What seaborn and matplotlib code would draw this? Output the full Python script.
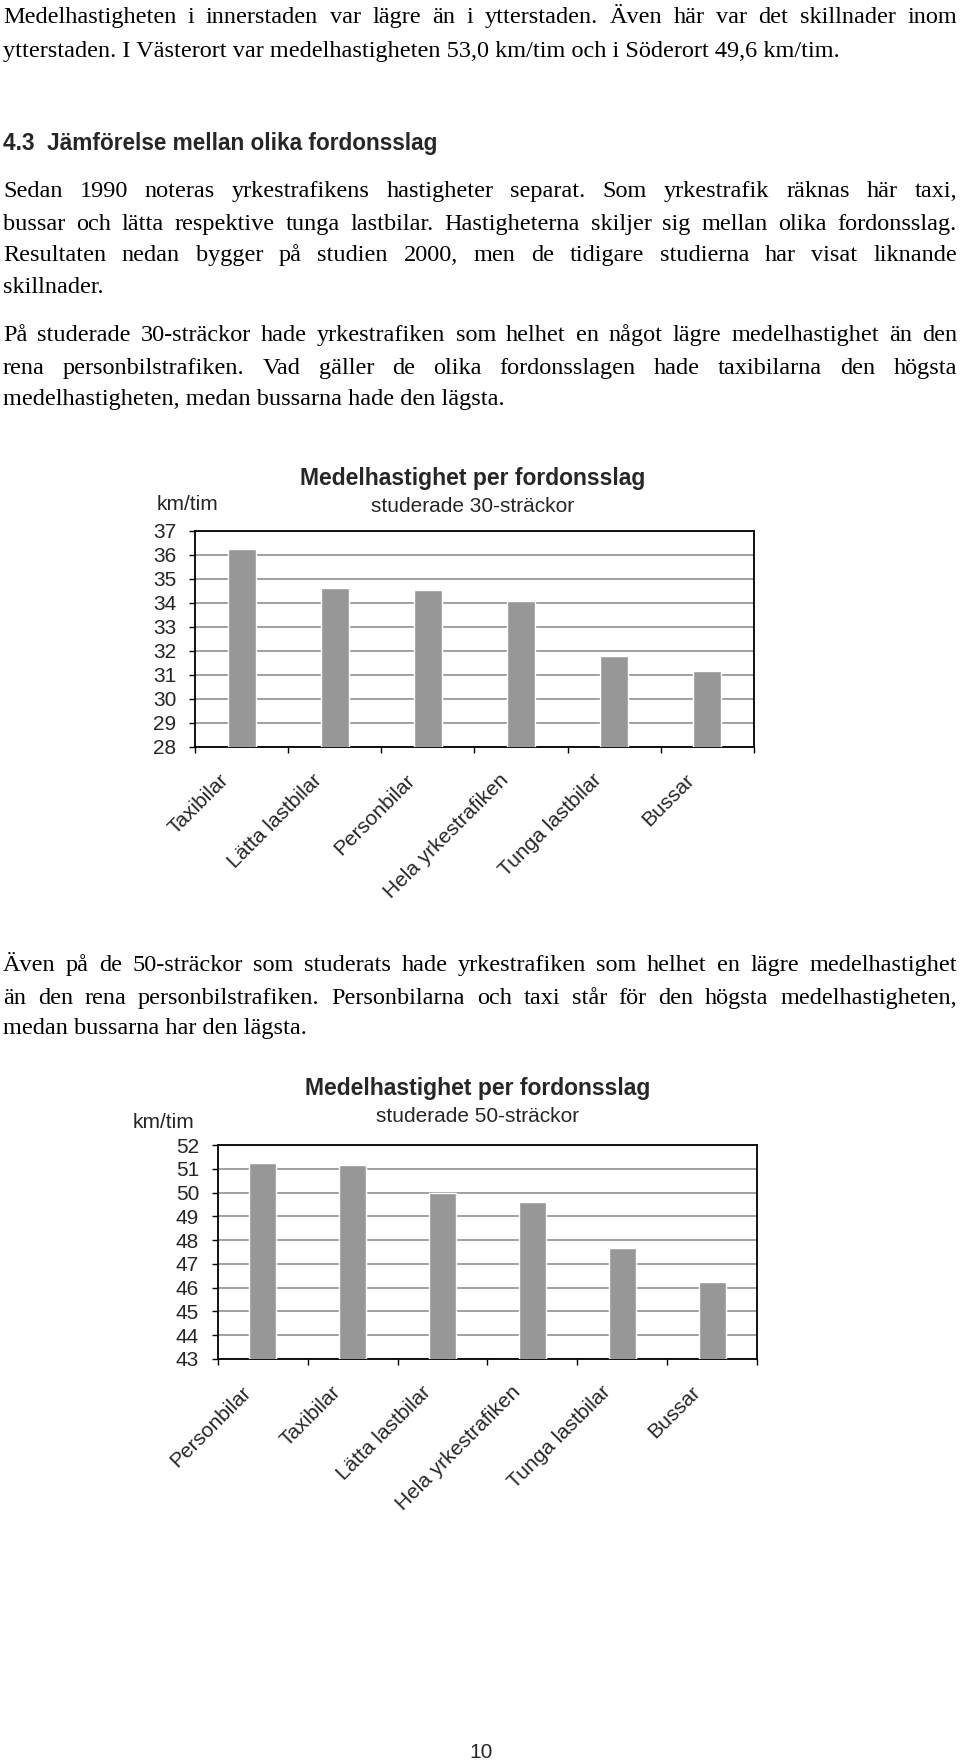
import numpy as np
import pandas as pd
import seaborn as sns
import matplotlib.pyplot as plt

# data (km/tim)
cats_30 = ["Taxibilar", "Lätta lastbilar", "Personbilar", "Hela yrkestrafiken", "Tunga lastbilar", "Bussar"]
speed_30 = [36.25, 34.63, 34.56, 34.1, 31.78, 31.15]

cats_50 = ["Personbilar", "Taxibilar", "Lätta lastbilar", "Hela yrkestrafiken", "Tunga lastbilar", "Bussar"]
speed_50 = [51.25, 51.15, 50.0, 49.6, 47.66, 46.22]

ticks_30 = list(range(28, 38))
ticks_50 = list(range(43, 53))

title = "Medelhastighet per fordonsslag"
sub_30 = "studerade 30-sträckor"
sub_50 = "studerade 50-sträckor"

# page text: (y in px, text, justified?)
body = [
    (17, "Medelhastigheten i innerstaden var lägre än i ytterstaden. Även här var det skillnader inom", True),
    (51, "ytterstaden. I Västerort var medelhastigheten 53,0 km/tim och i Söderort 49,6 km/tim.", False),
    (191, "Sedan 1990 noteras yrkestrafikens hastigheter separat. Som yrkestrafik räknas här taxi,", True),
    (224, "bussar och lätta respektive tunga lastbilar. Hastigheterna skiljer sig mellan olika fordonsslag.", True),
    (255, "Resultaten nedan bygger på studien 2000, men de tidigare studierna har visat liknande", True),
    (287, "skillnader.", False),
    (335, "På studerade 30-sträckor hade yrkestrafiken som helhet en något lägre medelhastighet än den", True),
    (368, "rena personbilstrafiken. Vad gäller de olika fordonsslagen hade taxibilarna den högsta", True),
    (399, "medelhastigheten, medan bussarna hade den lägsta.", False),
    (965, "Även på de 50-sträckor som studerats hade yrkestrafiken som helhet en lägre medelhastighet", True),
    (998, "än den rena personbilstrafiken. Personbilarna och taxi står för den högsta medelhastigheten,", True),
    (1028, "medan bussarna har den lägsta.", False),
]
heading = "4.3  Jämförelse mellan olika fordonsslag"

W, H = 960, 1764
sns.set_theme(style="white")
plt.rcParams["font.family"] = ["Liberation Sans", "DejaVu Sans"]

fig = plt.figure(figsize=(W / 100, H / 100), dpi=100)
renderer = fig.canvas.get_renderer()


def px(x, y):
    return x / W, 1 - y / H


def text_line(y, s, justify, x0=3, x1=957):
    kw = dict(fontsize=17.5, family="Liberation Serif", va="baseline", color="black")
    yb = y + 6
    if not justify:
        fig.text(*px(x0, yb), s, **kw)
        return
    words = s.split()
    objs = [fig.text(0, 0, w, **kw) for w in words]
    widths = [t.get_window_extent(renderer).width for t in objs]
    gap = (x1 - x0 - sum(widths)) / (len(words) - 1)
    x = x0
    for t, w in zip(objs, widths):
        t.set_position(px(x, yb))
        x += w + gap


for y, s, j in body:
    text_line(y, s, j)

fig.text(*px(3, 150), heading, fontsize=16.3, fontweight="bold", va="baseline")


def draw_chart(rect, cats, vals, yticks, sub, title_xy, km_xy):
    l, t, r, b = rect
    ax = fig.add_axes([l / W, 1 - b / H, (r - l) / W, (b - t) / H])
    sns.barplot(x=cats, y=vals, color="#979797", saturation=1, width=0.3,
                errorbar=None, ax=ax, zorder=3)
    ax.set_ylim(yticks[0], yticks[-1])
    ax.set_yticks(yticks)
    ax.set_xlim(-0.5, len(cats) - 0.5)
    ax.yaxis.grid(True, color="#a0a0a0", lw=1.4, zorder=0)
    ax.set_axisbelow(True)
    for sp in ax.spines.values():
        sp.set_color("black")
        sp.set_linewidth(1.3)
    # labels hang a little left of the bar centre, as in the original
    ax.set_xticks(np.arange(len(cats)) - 0.24)
    ax.set_xticklabels(cats, rotation=45, ha="right", rotation_mode="anchor", fontsize=15)
    ax.set_xticks(np.arange(len(cats) + 1) - 0.5, minor=True)
    ax.tick_params(axis="x", which="major", length=0, pad=17)
    ax.tick_params(axis="x", which="minor", length=4, width=1, color="black", direction="out", bottom=True)
    ax.tick_params(axis="y", length=4.5, width=1, color="black", direction="out", left=True,
                   labelsize=15, pad=9)
    ax.set_xlabel("")
    ax.set_ylabel("")
    fig.text(*px(*title_xy), title, fontsize=16.5, fontweight="bold", ha="center", va="center")
    fig.text(*px(title_xy[0], title_xy[1] + 28), sub, fontsize=15, ha="center", va="center")
    fig.text(*px(*km_xy), "km/tim", fontsize=15, ha="left", va="center")
    return ax


draw_chart((195, 531, 754, 747), cats_30, speed_30, ticks_30, sub_30, (473, 478), (157, 504))
draw_chart((218, 1145, 757, 1359), cats_50, speed_50, ticks_50, sub_50, (478, 1089), (133, 1122))

fig.text(*px(481, 1752), "10", fontsize=15, ha="center", va="center")

fig.savefig("out.png", dpi=100, facecolor="white")
